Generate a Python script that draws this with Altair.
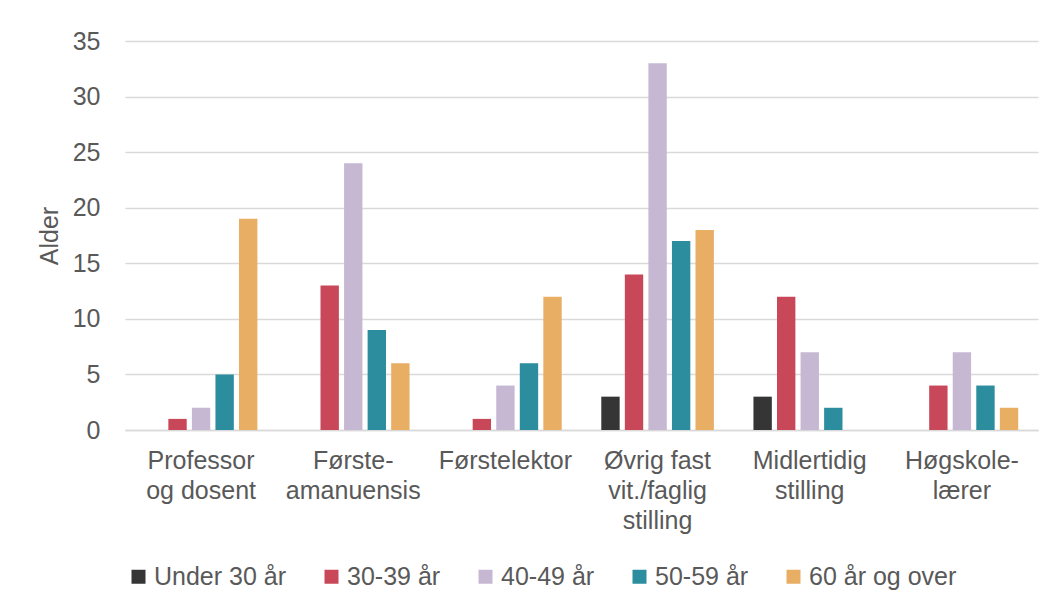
import altair as alt
import pandas as pd

categories = ["Professor|og dosent", "Første-|amanuensis", "Førstelektor",
              "Øvrig fast|vit./faglig|stilling", "Midlertidig|stilling", "Høgskole-|lærer"]
series = ["Under 30 år", "30-39 år", "40-49 år", "50-59 år", "60 år og over"]
colors = ["#353535", "#c8485a", "#c6b8d2", "#2b8d9e", "#e8ae63"]
values = {
    "Under 30 år":   [0, 0, 0, 3, 3, 0],
    "30-39 år":      [1, 13, 1, 14, 12, 4],
    "40-49 år":      [2, 24, 4, 33, 7, 7],
    "50-59 år":      [5, 9, 6, 17, 2, 4],
    "60 år og over": [19, 6, 12, 18, 0, 2],
}

rows = []
for s in series:
    for c, v in zip(categories, values[s]):
        rows.append({"kategori": c, "serie": s, "verdi": v})
df = pd.DataFrame(rows)

font = "Liberation Sans"
grey = "#595959"
fs = 25

chart = alt.Chart(df).mark_bar().encode(
    x=alt.X("kategori:N", sort=categories, title=None,
            scale=alt.Scale(paddingInner=0, paddingOuter=0),
            axis=alt.Axis(labelAngle=0, labelExpr="split(datum.label, '|')",
                          labelFontSize=fs, labelColor=grey, labelFont=font,
                          labelPadding=18, labelLineHeight=30, ticks=False,
                          domainColor="#d9d9d9", domainWidth=1.5, labelBaseline="top")),
    xOffset=alt.XOffset("serie:N", sort=series,
                        scale=alt.Scale(paddingInner=0.22, paddingOuter=0.84)),
    y=alt.Y("verdi:Q", title="Alder",
            scale=alt.Scale(domain=[0, 35]),
            axis=alt.Axis(values=[0, 5, 10, 15, 20, 25, 30, 35], domain=False, ticks=False,
                          labelFontSize=fs, labelColor=grey, labelFont=font, labelPadding=25,
                          titleFontSize=fs, titleColor=grey, titleFont=font, titleFontWeight="normal",
                          titlePadding=10, gridColor="#d9d9d9", gridWidth=1.5)),
    color=alt.Color("serie:N", sort=series, scale=alt.Scale(domain=series, range=colors),
                    legend=alt.Legend(title=None, orient="none", direction="horizontal",
                                      legendX=1, legendY=523, symbolType="square",
                                      symbolSize=196, symbolStrokeWidth=0, labelFontSize=fs,
                                      labelColor=grey, labelFont=font, columnPadding=32,
                                      labelOffset=3)),
).properties(
    width=913, height=389, padding={"left": 29, "top": 21, "right": 8, "bottom": 10}
).configure_view(stroke=None)

chart.save("out.html", embed_options={"renderer": "svg", "actions": False})
